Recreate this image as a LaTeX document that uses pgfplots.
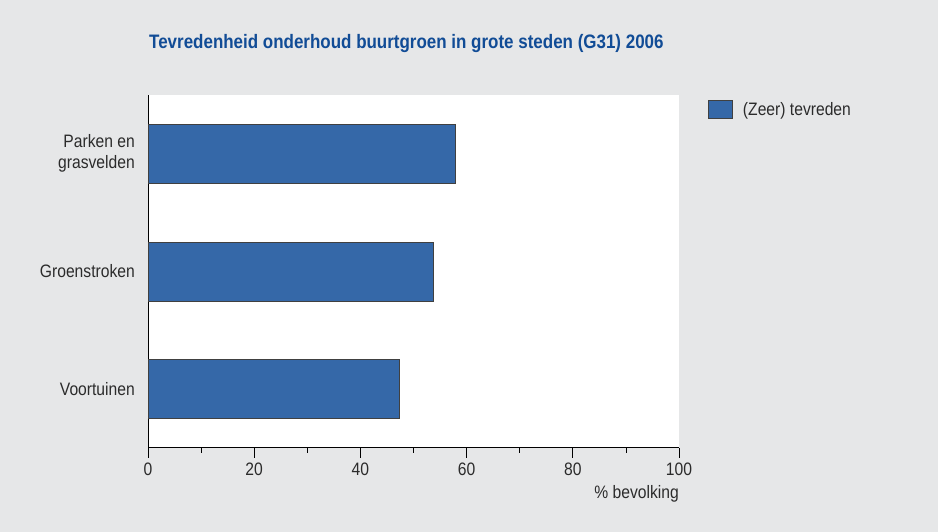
\documentclass[border=0pt]{standalone}
\usepackage{fontspec}
\setmainfont[FakeStretch=0.87]{Liberation Sans}
\usepackage{pgfplots}
\pgfplotsset{compat=1.18}
\definecolor{bg}{HTML}{E6E7E8}
\definecolor{barblue}{HTML}{3568A8}
\definecolor{titleblue}{HTML}{114C96}
\definecolor{txt}{HTML}{2B2B2B}
\begin{document}
\begin{tikzpicture}[x=1pt,y=1pt]
\fill[bg] (0,0) rectangle (938,532);
\useasboundingbox (0,0) rectangle (938,532);
\node[anchor=base west, inner sep=0pt, font=\fontsize{19.5}{23}\selectfont\bfseries, text=titleblue] at (149,483) {Tevredenheid onderhoud buurtgroen in grote steden (G31) 2006};
\begin{axis}[
  at={(148pt,84pt)}, anchor=south west,
  width=531pt, height=353pt, scale only axis,
  xmin=0, xmax=100, ymin=-0.5, ymax=2.5,
  axis lines*=left,
  axis line style={black, line width=1pt},
  axis background/.style={fill=white},
  xbar, bar width=0.5,
  xtick={0,20,40,60,80,100},
  minor xtick={10,30,50,70,90},
  tick align=outside,
  major tick length=10pt, minor tick length=5pt,
  every tick/.style={black, line width=0.8pt},
  ytick={0,1,2},
  yticklabels={Voortuinen, Groenstroken, {Parken en\\grasvelden}},
  ytick style={draw=none},
  yticklabel style={align=right, inner sep=0pt, xshift=-3pt},
  xticklabel style={inner sep=0pt, yshift=-5pt},
  tick label style={font=\fontsize{18}{21}\selectfont, text=txt},
  /pgf/number format/assume math mode=true,
  xlabel={\% bevolking},
  xlabel style={at={(axis description cs:1,0)}, anchor=base east, inner sep=0pt, yshift=-51pt, font=\fontsize{18}{21}\selectfont, text=txt},
  legend style={at={(axis description cs:1.0546,0.986)}, anchor=north west, draw=none, fill=none, inner sep=0pt, column sep=10pt, nodes={inner sep=0pt, text=txt, font=\fontsize{18}{21}\selectfont}},
  legend image code/.code={\draw[#1] (0pt,-9pt) rectangle (24pt,9pt);},
]
\addplot[fill=barblue, draw=black!75, line width=0.8pt] coordinates {(47.3,0) (53.8,1) (57.8,2)};
\addlegendentry{(Zeer) tevreden}
\end{axis}
\end{tikzpicture}
\end{document}
